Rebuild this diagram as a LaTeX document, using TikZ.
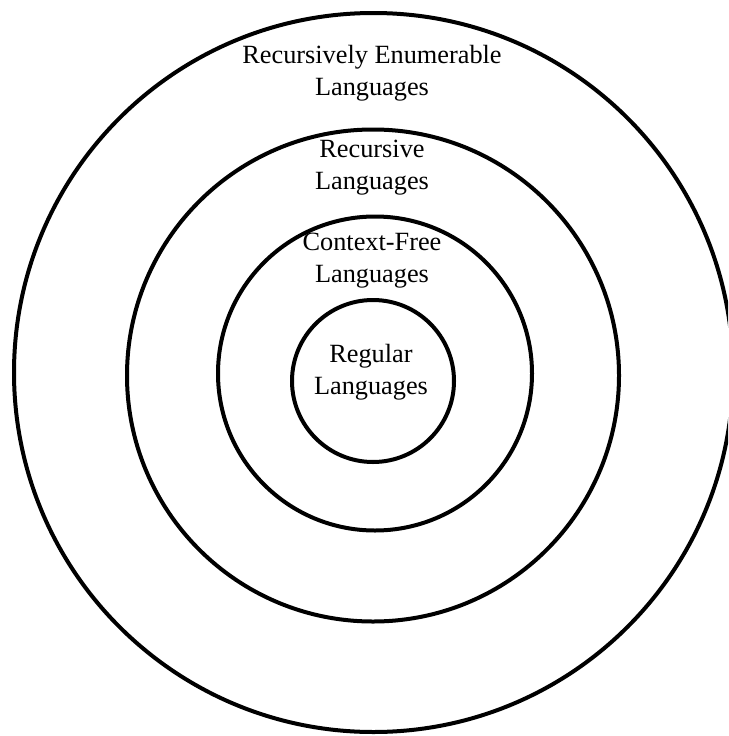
\documentclass[tikz,border=0pt]{standalone}
\usepackage{fontspec}
\setmainfont{Liberation Serif}
\begin{document}
\begin{tikzpicture}[x=1pt,y=-1pt,
  ring/.style={draw=black,line width=4pt},
  lbl/.style={align=center,inner sep=0pt,font=\fontsize{26.3}{32}\selectfont}]
\useasboundingbox (0,0) rectangle (728,736);
\begin{scope}
\clip (0,0) rectangle (728,736);
\draw[ring] (373.5,372.5) circle (359.5);
\end{scope}
\draw[ring] (373,375.5) circle (246);
\draw[ring] (375,373.5) circle (157);
\draw[ring] (373,381) circle (81);
\node[lbl] (re) at (372,73) {Recursively Enumerable\\Languages};
\node[lbl] (rec) at (372,168) {Recursive\\Languages};
\node[lbl] (cf) at (372,261) {Context-Free\\Languages};
\node[lbl] (reg) at (371,372) {Regular\\Languages};
\end{tikzpicture}
\end{document}
